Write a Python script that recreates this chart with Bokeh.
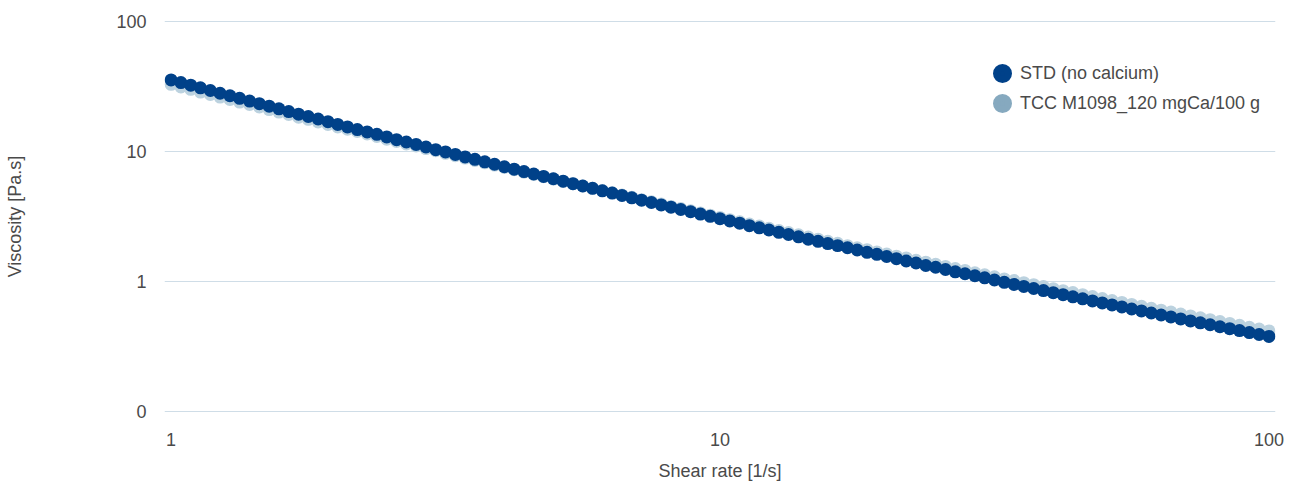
from bokeh.plotting import figure
from bokeh.models import Range1d, FixedTicker, Legend, LegendItem, LogScale
from bokeh.embed import file_html
from bokeh.resources import INLINE

# ---- data ----
shear_rate = [
    1.000, 1.042, 1.086, 1.131, 1.179, 1.228, 1.280, 1.333, 1.390, 1.448,
    1.509, 1.572, 1.638, 1.707, 1.778, 1.853, 1.931, 2.012, 2.096, 2.184,
    2.276, 2.371, 2.471, 2.575, 2.683, 2.795, 2.913, 3.035, 3.162, 3.295,
    3.433, 3.577, 3.728, 3.884, 4.047, 4.217, 4.394, 4.578, 4.771, 4.971,
    5.179, 5.397, 5.623, 5.859, 6.105, 6.362, 6.629, 6.907, 7.197, 7.499,
    7.814, 8.142, 8.483, 8.840, 9.211, 9.597,
    10.00, 10.42, 10.86, 11.31, 11.79, 12.28, 12.80, 13.33, 13.90, 14.48,
    15.09, 15.72, 16.38, 17.07, 17.78, 18.53, 19.31, 20.12, 20.96, 21.84,
    22.76, 23.71, 24.71, 25.75, 26.83, 27.95, 29.13, 30.35, 31.62, 32.95,
    34.33, 35.77, 37.28, 38.84, 40.47, 42.17, 43.94, 45.78, 47.71, 49.71,
    51.79, 53.97, 56.23, 58.59, 61.05, 63.62, 66.29, 69.07, 71.97, 74.99,
    78.14, 81.42, 84.83, 88.40, 92.11, 95.97,
    100.0,
]

std_no_calcium = [
    35.3, 33.7, 32.2, 30.7, 29.3, 27.9, 26.7, 25.5, 24.3, 23.2,
    22.2, 21.2, 20.2, 19.3, 18.5, 17.7, 16.9, 16.1, 15.4, 14.7,
    14.1, 13.5, 12.9, 12.3, 11.8, 11.3, 10.8, 10.3, 9.89, 9.47,
    9.06, 8.68, 8.31, 7.96, 7.62, 7.30, 6.99, 6.70, 6.42, 6.16,
    5.90, 5.65, 5.42, 5.20, 4.98, 4.78, 4.59, 4.40, 4.22, 4.05,
    3.88, 3.73, 3.58, 3.44, 3.30, 3.17, 3.04, 2.92, 2.81, 2.69,
    2.59, 2.49, 2.39, 2.30, 2.21, 2.12, 2.04, 1.96, 1.89, 1.82,
    1.75, 1.68, 1.62, 1.56, 1.50, 1.44, 1.39, 1.33, 1.29, 1.24,
    1.19, 1.15, 1.11, 1.07, 1.03, 0.989, 0.953, 0.919, 0.886, 0.854,
    0.823, 0.794, 0.765, 0.738, 0.712, 0.687, 0.663, 0.640, 0.617, 0.596,
    0.575, 0.555, 0.536, 0.518, 0.500, 0.483, 0.467, 0.451, 0.436, 0.421,
    0.407, 0.393, 0.380,
]

tcc_m1098 = [
    32.7, 31.2, 29.9, 28.5, 27.3, 26.1, 25.0, 23.9, 22.9, 21.9,
    20.9, 20.0, 19.2, 18.3, 17.6, 16.8, 16.1, 15.4, 14.8, 14.2,
    13.6, 13.0, 12.4, 11.9, 11.4, 11.0, 10.5, 10.1, 9.65, 9.26,
    8.88, 8.52, 8.17, 7.84, 7.52, 7.22, 6.92, 6.65, 6.38, 6.13,
    5.88, 5.65, 5.42, 5.21, 5.00, 4.81, 4.62, 4.44, 4.26, 4.10,
    3.94, 3.78, 3.64, 3.50, 3.36, 3.24, 3.11, 2.99, 2.88, 2.77,
    2.67, 2.57, 2.47, 2.38, 2.29, 2.20, 2.12, 2.04, 1.97, 1.89,
    1.82, 1.76, 1.69, 1.63, 1.57, 1.52, 1.46, 1.41, 1.36, 1.31,
    1.26, 1.22, 1.17, 1.13, 1.09, 1.05, 1.02, 0.982, 0.948, 0.916,
    0.884, 0.853, 0.824, 0.795, 0.768, 0.742, 0.717, 0.693, 0.669, 0.647,
    0.625, 0.604, 0.584, 0.565, 0.546, 0.528, 0.511, 0.494, 0.478, 0.462,
    0.447, 0.433, 0.419,
]

series_names = ["STD (no calcium)", "TCC M1098_120 mgCa/100 g"]
x_ticks = [1, 10, 100]
x_tick_labels = ["1", "10", "100"]
y_ticks = [0.1, 1, 10, 100]
y_tick_labels = ["0", "1", "10", "100"]
x_title = "Shear rate [1/s]"
y_title = "Viscosity [Pa.s]"

# ---- styling ----
STD_COLOR = "#004189"
TCC_PLOT_COLOR = "#bcd2df"
TCC_LEGEND_COLOR = "#86a9bf"
GRID_COLOR = "#cfdde7"
TEXT_COLOR = "#4a4a4a"
FONT = "Liberation Sans"
FS = "18px"

p = figure(
    width=1301, height=486,
    x_axis_type="log", y_axis_type="log",
    x_range=Range1d(0.9727, 102.8),
    y_range=Range1d(0.09908, 100.93),
    output_backend="svg", toolbar_location=None,
    min_border_left=164, min_border_right=26,
    min_border_top=20, min_border_bottom=74,
)
p.outline_line_color = None
p.background_fill_color = "white"
p.border_fill_color = "white"

p.scatter(shear_rate, tcc_m1098, size=13, fill_color=TCC_PLOT_COLOR,
          line_color=TCC_PLOT_COLOR, line_width=0)
p.scatter(shear_rate, std_no_calcium, size=13, fill_color=STD_COLOR,
          line_color=STD_COLOR, line_width=0)

# legend swatch renderers: same data, mapped onto a far-off range so they stay
# out of view; they only provide full-colour, larger legend swatches
p.extra_y_ranges = {"legend_proxy": Range1d(1e6, 1e7)}
p.extra_y_scales = {"legend_proxy": LogScale()}
proxy_std = p.scatter(shear_rate, std_no_calcium, y_range_name="legend_proxy",
                      size=12, fill_color=STD_COLOR, line_color=STD_COLOR,
                      line_width=7)
proxy_tcc = p.scatter(shear_rate, tcc_m1098, y_range_name="legend_proxy",
                      size=12, fill_color=TCC_LEGEND_COLOR,
                      line_color=TCC_LEGEND_COLOR, line_width=7)

xt = FixedTicker(ticks=x_ticks, minor_ticks=[])
yt = FixedTicker(ticks=y_ticks, minor_ticks=[])
p.xaxis.ticker = xt
p.yaxis.ticker = yt
p.xaxis.major_label_overrides = {t: l for t, l in zip(x_ticks, x_tick_labels)}
p.yaxis.major_label_overrides = {t: l for t, l in zip(y_ticks, y_tick_labels)}

p.xgrid.visible = False
p.ygrid.ticker = yt
p.ygrid.grid_line_color = GRID_COLOR
p.ygrid.grid_line_width = 1

for ax in (p.xaxis[0], p.yaxis[0]):
    ax.axis_line_color = None
    ax.major_tick_line_color = None
    ax.minor_tick_line_color = None
    ax.major_tick_in = 0
    ax.major_tick_out = 0
    ax.minor_tick_in = 0
    ax.minor_tick_out = 0
    ax.major_label_text_font = FONT
    ax.major_label_text_font_size = FS
    ax.major_label_text_color = TEXT_COLOR
    ax.axis_label_text_font = FONT
    ax.axis_label_text_font_size = FS
    ax.axis_label_text_font_style = "normal"
    ax.axis_label_text_color = TEXT_COLOR

p.xaxis.axis_label = x_title
p.yaxis.axis_label = y_title
p.xaxis.major_label_standoff = 20
p.xaxis.axis_label_standoff = 12
p.yaxis.major_label_standoff = 18
p.yaxis.axis_label_standoff = 88

legend = Legend(
    items=[LegendItem(label=series_names[0], renderers=[proxy_std]),
           LegendItem(label=series_names[1], renderers=[proxy_tcc])],
    location=(823, 294),
    border_line_color=None, background_fill_alpha=0,
    padding=0, margin=0, spacing=0,
    glyph_width=30, glyph_height=30, label_height=30,
    label_standoff=3,
    label_text_font=FONT, label_text_font_size=FS,
    label_text_color=TEXT_COLOR,
)
p.add_layout(legend)

open("out.html", "w").write(file_html(p, INLINE))
